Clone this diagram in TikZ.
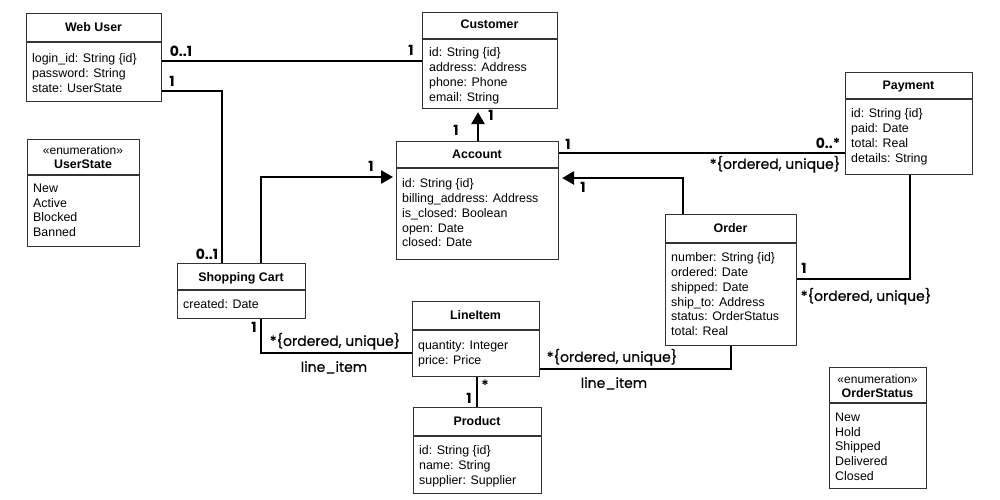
\documentclass[tikz,border=0pt]{standalone}
\usepackage{fontspec}
\setmainfont{Liberation Sans}
\newfontfamily\lblfont{Poppins}
\newfontfamily\rolefont[FakeBold=0.5]{Poppins}
\usetikzlibrary{arrows.meta}
\definecolor{boxc}{HTML}{333333}
\tikzset{
  box/.style={draw=boxc, line width=1.1pt, fill=white, inner sep=0pt, anchor=north west},
  divl/.style={draw=boxc, line width=1.1pt},
  ttl/.style={font=\fontsize{12.4}{14}\selectfont\bfseries, inner sep=0pt, text height=8.9pt, text depth=0pt},
  attr/.style={font=\fontsize{12.4}{14.8}\selectfont, align=left, inner sep=0pt, anchor=north west},
  stereo/.style={font=\fontsize{12}{14}\selectfont, inner sep=0pt, text height=8.6pt, text depth=0pt},
  conn/.style={line width=2.6pt, draw=black},
  arr/.style={conn, -{Triangle[length=12pt,width=13pt]}, shorten >=3pt},
  mult/.style={font=\lblfont\bfseries\fontsize{14}{16}\selectfont, inner sep=0pt, text height=9.8pt, text depth=0pt},
  role/.style={font=\rolefont\fontsize{14}{16}\selectfont, inner sep=0pt, text height=9.8pt, text depth=0pt},
}
\begin{document}
\begin{tikzpicture}[x=1pt,y=-1pt]
\useasboundingbox (0,0) rectangle (1000,500);

% Web User
\node[box, minimum width=135pt, minimum height=88pt] (web) at (26,13) {};
\draw[divl] (26,42) -- (161,42);
\node[ttl] (webT) at (93.5,27.5) {Web User};
\node[attr] (webA) at (32,53.5) {login\_id: String \{id\}\\password: String\\state: UserState};

% Customer
\node[box, minimum width=135pt, minimum height=96pt] (cust) at (422,12) {};
\draw[divl] (422,39) -- (557,39);
\node[ttl] (custT) at (489.5,24.5) {Customer};
\node[attr] (custA) at (429,47.5) {id: String \{id\}\\address: Address\\phone: Phone\\email: String};

% Payment
\node[box, minimum width=127pt, minimum height=102pt] (pay) at (845,72) {};
\draw[divl] (845,99) -- (972,99);
\node[ttl] (payT) at (908.5,85.5) {Payment};
\node[attr] (payA) at (851,108.5) {id: String \{id\}\\paid: Date\\total: Real\\details: String};

% UserState
\node[box, minimum width=112pt, minimum height=107pt] (us) at (27,139) {};
\draw[divl] (27,175) -- (139,175);
\node[stereo] (usS) at (83,150.5) {«enumeration»};
\node[ttl] (usT) at (83,164.5) {UserState};
\node[attr] (usA) at (33,183.5) {New\\Active\\Blocked\\Banned};

% Account
\node[box, minimum width=162pt, minimum height=118pt] (acc) at (396,141) {};
\draw[divl] (396,168) -- (558,168);
\node[ttl] (accT) at (477,154.5) {Account};
\node[attr] (accA) at (402,178.5) {id: String \{id\}\\billing\_address: Address\\is\_closed: Boolean\\open: Date\\closed: Date};

% Order
\node[box, minimum width=131pt, minimum height=131pt] (ord) at (665,214) {};
\draw[divl] (665,243) -- (796,243);
\node[ttl] (ordT) at (730.5,228.5) {Order};
\node[attr] (ordA) at (671,252.5) {number: String \{id\}\\ordered: Date\\shipped: Date\\ship\_to: Address\\status: OrderStatus\\total: Real};

% Shopping Cart
\node[box, minimum width=128pt, minimum height=55pt] (cart) at (177,263) {};
\draw[divl] (177,290) -- (305,290);
\node[ttl] (cartT) at (241,277) {Shopping Cart};
\node[attr] (cartA) at (183,299.5) {created: Date};

% LineItem
\node[box, minimum width=127pt, minimum height=75pt] (li) at (412,301) {};
\draw[divl] (412,330) -- (539,330);
\node[ttl] (liT) at (475.5,315) {LineItem};
\node[attr] (liA) at (418,340.5) {quantity: Integer\\price: Price};

% Product
\node[box, minimum width=128pt, minimum height=86pt] (prod) at (413,407) {};
\draw[divl] (413,436) -- (541,436);
\node[ttl] (prodT) at (477,421) {Product};
\node[attr] (prodA) at (419,445.5) {id: String \{id\}\\name: String\\supplier: Supplier};

% OrderStatus
\node[box, minimum width=97pt, minimum height=121pt] (os) at (829,367) {};
\draw[divl] (829,403) -- (926,403);
\node[stereo] (osS) at (877.5,379.5) {«enumeration»};
\node[ttl] (osT) at (877.5,393.5) {OrderStatus};
\node[attr] (osA) at (835,412.5) {New\\Hold\\Shipped\\Delivered\\Closed};

% Connectors
\draw[conn] (web.east |- 0,61) -- (cust.west |- 0,61);
\draw[conn] (web.east |- 0,91) -| (222,0 |- cart.north);
\draw[arr] (261,0 |- cart.north) |- (acc.west |- 0,177);
\draw[arr] (478,0 |- acc.north) -- (478,0 |- cust.south);
\draw[conn] (acc.east |- 0,153) -- (pay.west |- 0,153);
\draw[arr] (683,0 |- ord.north) |- (acc.east |- 0,178);
\draw[conn] (910,0 |- pay.south) |- (ord.east |- 0,279);
\draw[conn] (261,0 |- cart.south) |- (li.west |- 0,353);
\draw[conn] (li.east |- 0,369) -| (731,0 |- ord.south);
\draw[conn] (477,0 |- li.south) -- (477,0 |- prod.north);

% Labels
\node[mult] (m1) at (181,52) {0..1};
\node[mult] (m2) at (411,51) {1};
\node[mult] (m3) at (172,82) {1};
\node[mult] (m4) at (207,255) {0..1};
\node[mult] (m5) at (371,167) {1};
\node[mult] (m6) at (456,131) {1};
\node[mult] (m7) at (491,116) {1};
\node[mult] (m8) at (568,145) {1};
\node[mult] (m9) at (828,144) {0..*};
\node[role] (r1) at (775,164) {*\{ordered, unique\}};
\node[mult] (m10) at (583,188) {1};
\node[mult] (m11) at (804,269) {1};
\node[role] (r2) at (866,296) {*\{ordered, unique\}};
\node[mult] (m12) at (254,328) {1};
\node[role] (r3) at (335,341) {*\{ordered, unique\}};
\node[role] (r4) at (334,367) {line\_item};
\node[role] (r5) at (612,357) {*\{ordered, unique\}};
\node[role] (r6) at (614,383) {line\_item};
\node[role] (m13) at (485,385) {*};
\node[mult] (m14) at (469,399) {1};
\end{tikzpicture}
\end{document}
